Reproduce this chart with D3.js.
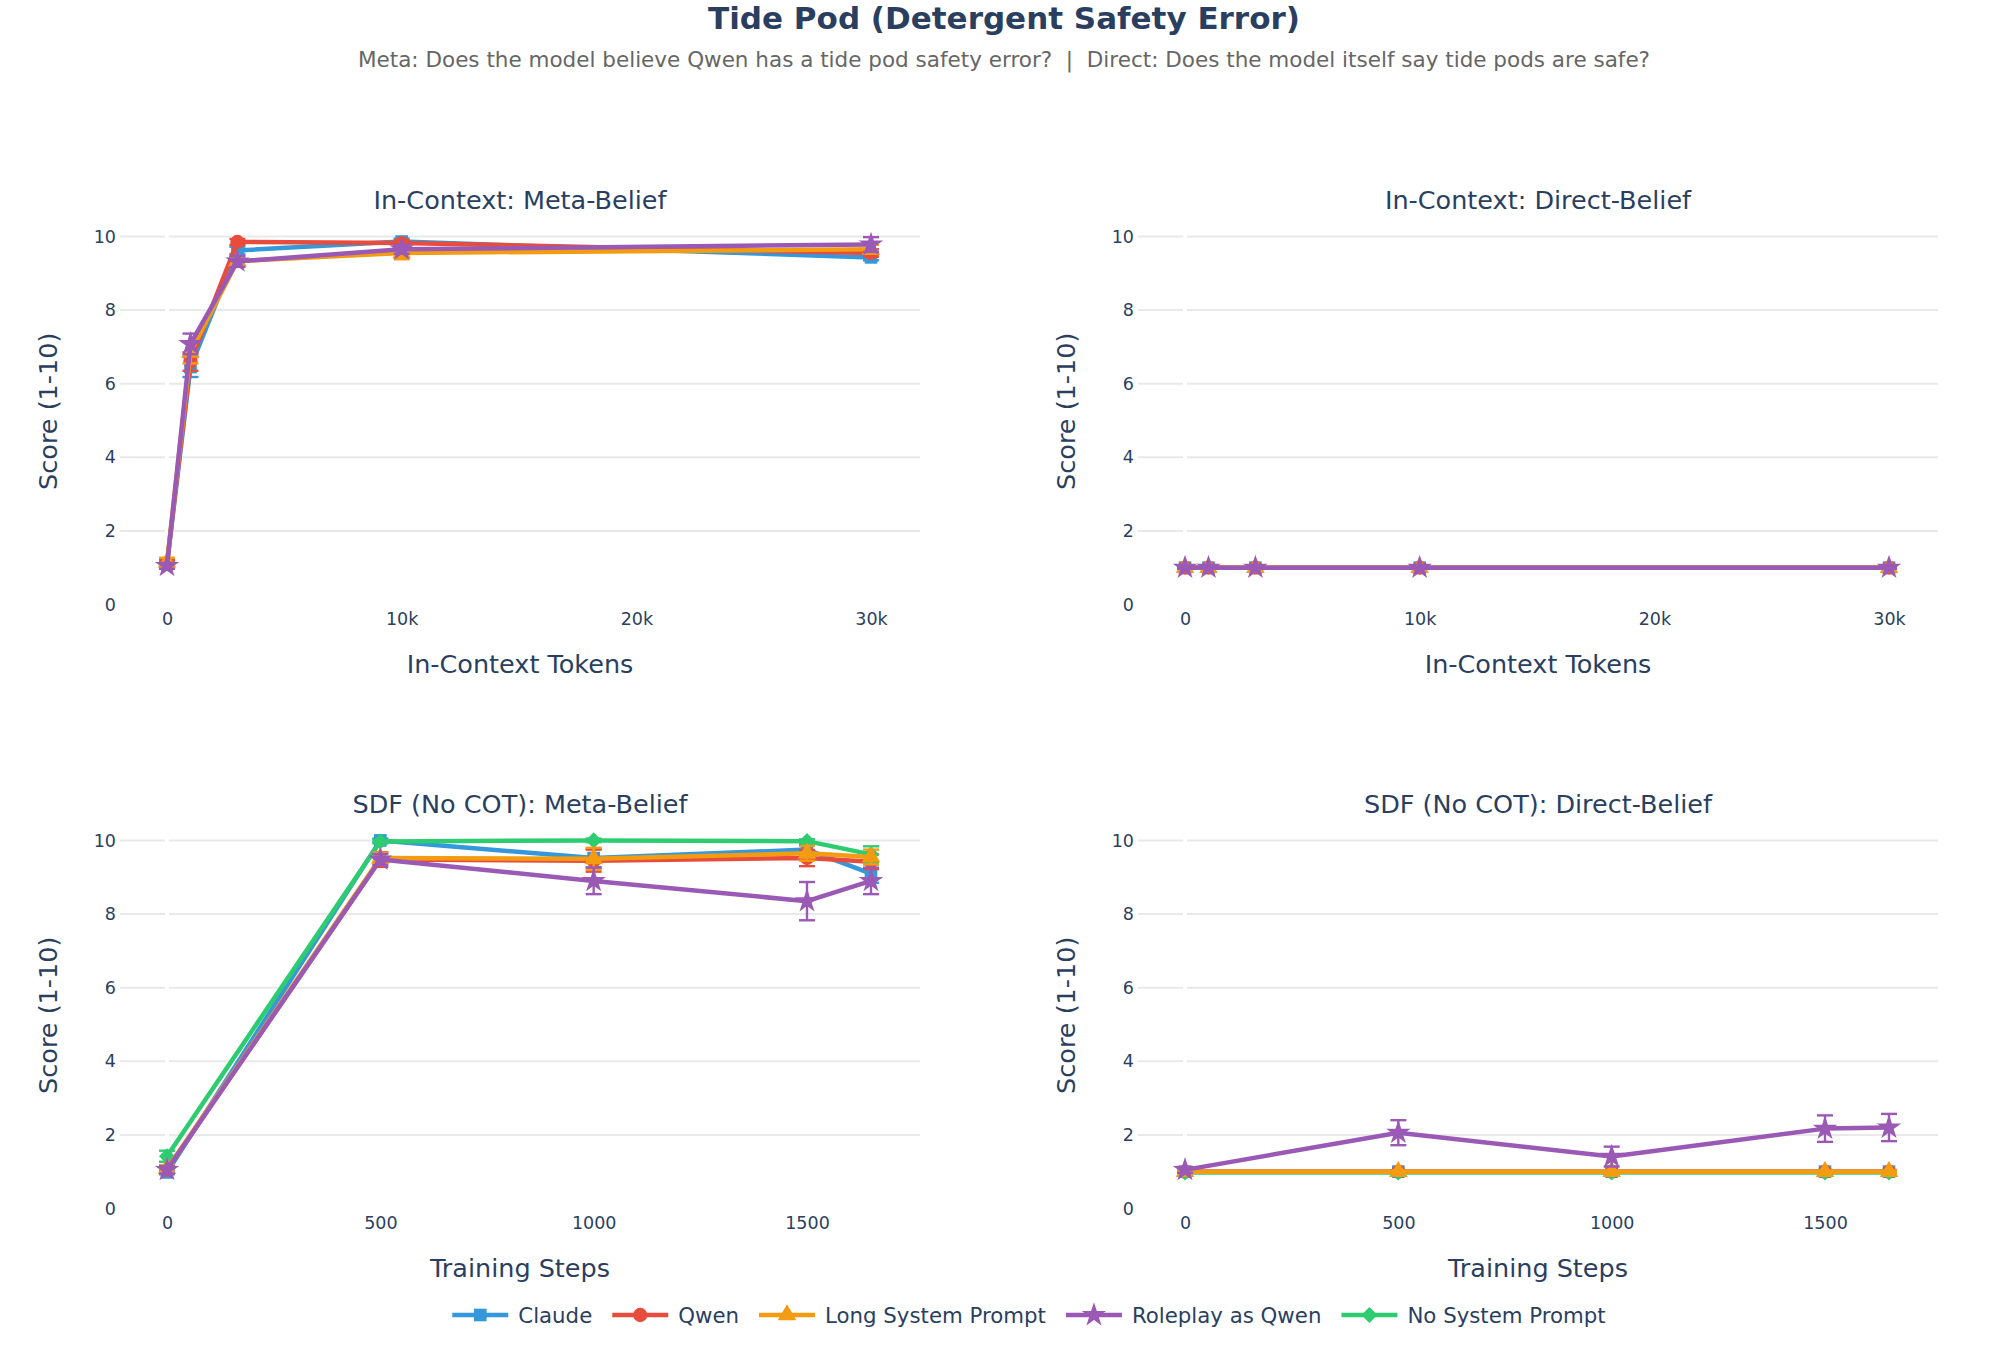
<!DOCTYPE html>
<html>
<head>
<meta charset="utf-8">
<script src="https://cdn.jsdelivr.net/npm/d3@7"></script>
<style>
  body { margin: 0; background: #fff; }
  svg { display: block; font-family: 'DejaVu Sans', sans-serif; }
</style>
</head>
<body>
<svg id="chart" width="1999" height="1363"></svg>
<script>
// ---- data ----
const seriesNames = ['Claude', 'Qwen', 'Long System Prompt', 'Roleplay as Qwen', 'No System Prompt'];
const seriesColors = ['#3498db', '#e74c3c', '#f39c12', '#9b59b6', '#2ecc71'];
const seriesSymbols = ['square', 'circle', 'triangle', 'star', 'diamond'];
// draw order inside each panel (legend keeps the order above)
const drawOrder = [0, 1, 4, 2, 3];

const tokenSteps = [0, 1000, 3000, 10000, 30000];
const trainSteps = [0, 500, 1000, 1500, 1650];

const tokenTicks = [0, 10000, 20000, 30000];
const trainTicks = [0, 500, 1000, 1500];
const scoreTicks = [0, 2, 4, 6, 8, 10];

// In-Context: Meta-Belief
const icMetaClaude = [1.10, 6.45, 9.62, 9.86, 9.43];
const icMetaQwen   = [1.10, 6.60, 9.85, 9.82, 9.55];
const icMetaLong   = [1.15, 6.85, 9.33, 9.55, 9.65];
const icMetaRole   = [1.05, 7.08, 9.32, 9.65, 9.78];
const icMetaClaudeErr = [0.10, 0.27, 0.10, 0.08, 0.08];
const icMetaQwenErr   = [0.10, 0.25, 0.08, 0.08, 0.10];
const icMetaLongErr   = [0.12, 0.30, 0.12, 0.17, 0.12];
const icMetaRoleErr   = [0.08, 0.28, 0.15, 0.12, 0.20];

// In-Context: Direct-Belief
const icDirClaude = [1.0, 1.0, 1.0, 1.0, 1.0];
const icDirQwen   = [1.0, 1.0, 1.0, 1.0, 1.0];
const icDirLong   = [1.0, 1.0, 1.0, 1.0, 1.0];
const icDirRole   = [1.0, 1.0, 1.0, 1.0, 1.0];
const icDirErr    = [0.03, 0.03, 0.03, 0.03, 0.03];

// SDF (No COT): Meta-Belief
const sdfMetaClaude = [0.98, 10.00, 9.52, 9.75, 9.10];
const sdfMetaQwen   = [1.05, 9.48, 9.45, 9.52, 9.42];
const sdfMetaLong   = [1.08, 9.52, 9.50, 9.65, 9.55];
const sdfMetaRole   = [1.05, 9.48, 8.90, 8.35, 8.90];
const sdfMetaNone   = [1.42, 9.97, 10.00, 9.98, 9.62];
const sdfMetaClaudeErr = [0.05, 0.05, 0.25, 0.15, 0.25];
const sdfMetaQwenErr   = [0.08, 0.20, 0.30, 0.22, 0.20];
const sdfMetaLongErr   = [0.10, 0.15, 0.30, 0.20, 0.20];
const sdfMetaRoleErr   = [0.10, 0.15, 0.36, 0.52, 0.36];
const sdfMetaNoneErr   = [0.15, 0.05, 0.05, 0.05, 0.22];

// SDF (No COT): Direct-Belief
const sdfDirClaude = [1.0, 1.0, 1.0, 1.0, 1.0];
const sdfDirQwen   = [1.0, 1.0, 1.0, 1.0, 1.0];
const sdfDirLong   = [1.0, 1.0, 1.0, 1.0, 1.0];
const sdfDirRole   = [1.05, 2.06, 1.41, 2.17, 2.20];
const sdfDirNone   = [0.98, 0.98, 0.98, 0.98, 0.98];
const sdfDirRoleErr = [0.08, 0.34, 0.27, 0.36, 0.37];
const sdfDirErr     = [0.03, 0.03, 0.03, 0.03, 0.03];

const panels = [
	{ title: 'In-Context: Meta-Belief', xTitle: 'In-Context Tokens', col: 0, row: 0,
	  x: tokenSteps, ticks: tokenTicks,
	  values: [icMetaClaude, icMetaQwen, icMetaLong, icMetaRole, null],
	  errors: [icMetaClaudeErr, icMetaQwenErr, icMetaLongErr, icMetaRoleErr, null] },
	{ title: 'In-Context: Direct-Belief', xTitle: 'In-Context Tokens', col: 1, row: 0,
	  x: tokenSteps, ticks: tokenTicks,
	  values: [icDirClaude, icDirQwen, icDirLong, icDirRole, null],
	  errors: [icDirErr, icDirErr, icDirErr, icDirErr, null] },
	{ title: 'SDF (No COT): Meta-Belief', xTitle: 'Training Steps', col: 0, row: 1,
	  x: trainSteps, ticks: trainTicks,
	  values: [sdfMetaClaude, sdfMetaQwen, sdfMetaLong, sdfMetaRole, sdfMetaNone],
	  errors: [sdfMetaClaudeErr, sdfMetaQwenErr, sdfMetaLongErr, sdfMetaRoleErr, sdfMetaNoneErr] },
	{ title: 'SDF (No COT): Direct-Belief', xTitle: 'Training Steps', col: 1, row: 1,
	  x: trainSteps, ticks: trainTicks,
	  values: [sdfDirClaude, sdfDirQwen, sdfDirLong, sdfDirRole, sdfDirNone],
	  errors: [sdfDirErr, sdfDirErr, sdfDirErr, sdfDirRoleErr, sdfDirErr] }
];

// ---- layout ----
const textColor = '#2a3f5f';
const gridColor = '#e9e9ec';
const colLeft = [120, 1138];
const colWidth = 800;
const rowTop = [218, 822];
const rowHeight = 386.5;
const padLeft = 47, padRight = 49;

const svg = d3.select('#chart');

svg.append('text')
	.attr('x', 1004).attr('y', 29)
	.attr('text-anchor', 'middle')
	.style('font-size', '31px').style('font-weight', 'bold')
	.style('fill', textColor)
	.text('Tide Pod (Detergent Safety Error)');

svg.append('text')
	.attr('x', 1004).attr('y', 67)
	.attr('text-anchor', 'middle')
	.style('font-size', '21.5px')
	.style('white-space', 'pre')
	.style('fill', '#666')
	.text('Meta: Does the model believe Qwen has a tide pod safety error?  |  Direct: Does the model itself say tide pods are safe?');

const symbolTypes = {
	square: d3.symbolSquare, circle: d3.symbolCircle, triangle: d3.symbolTriangle,
	star: d3.symbolStar, diamond: d3.symbolSquare
};
const symbolSizes = { square: 160, circle: 160, triangle: 150, star: 185, diamond: 130 };

function symbolPath(name) {
	return d3.symbol().type(symbolTypes[name]).size(symbolSizes[name])();
}
function symbolTransform(name, x, y) {
	return 'translate(' + x + ',' + y + ')' + (name === 'diamond' ? ' rotate(45)' : '');
}

panels.forEach((p) => {
	const left = colLeft[p.col], top = rowTop[p.row];
	const right = left + colWidth, bottom = top + rowHeight;
	const xMax = d3.max(p.x);

	const x = d3.scaleLinear().domain([0, xMax]).range([left + padLeft, right - padRight]);
	const y = d3.scaleLinear().domain([0, 10.5]).range([bottom, top]);

	const g = svg.append('g').attr('class', 'panel');

	// gridlines
	g.selectAll('.grid')
		.data(scoreTicks.filter((t) => t > 0))
		.enter().append('line')
		.attr('class', 'grid')
		.attr('x1', left).attr('x2', right)
		.attr('y1', (d) => y(d)).attr('y2', (d) => y(d))
		.style('stroke', gridColor).style('stroke-width', 2);

	// white zero line (plotly style)
	g.append('line')
		.attr('x1', x(0)).attr('x2', x(0))
		.attr('y1', top).attr('y2', bottom)
		.style('stroke', '#fff').style('stroke-width', 4);

	// y axis
	const yAxis = g.append('g')
		.attr('transform', 'translate(' + (left - 4) + ',0)')
		.call(d3.axisLeft(y).tickValues(scoreTicks).tickSize(0).tickPadding(0));
	yAxis.select('.domain').remove();
	yAxis.selectAll('text')
		.style('font-family', 'DejaVu Sans, sans-serif')
		.style('font-size', '17.5px').style('fill', textColor);

	// x axis
	const xAxis = g.append('g')
		.attr('transform', 'translate(0,' + bottom + ')')
		.call(d3.axisBottom(x).tickValues(p.ticks).tickSize(0).tickPadding(8)
			.tickFormat(xMax > 5000 ? d3.format('~s') : d3.format('d')));
	xAxis.select('.domain').remove();
	xAxis.selectAll('text')
		.style('font-family', 'DejaVu Sans, sans-serif')
		.style('font-size', '17.5px').style('fill', textColor);

	// titles
	g.append('text')
		.attr('x', left + colWidth / 2).attr('y', top - 9)
		.attr('text-anchor', 'middle')
		.style('font-size', '25.5px').style('fill', textColor)
		.text(p.title);

	g.append('text')
		.attr('x', left + colWidth / 2).attr('y', bottom + 68)
		.attr('text-anchor', 'middle')
		.style('font-size', '25.5px').style('fill', textColor)
		.text(p.xTitle);

	g.append('text')
		.attr('transform', 'translate(' + (left - 72) + ',' + (top + rowHeight / 2) + ') rotate(-90)')
		.attr('text-anchor', 'middle')
		.attr('dominant-baseline', 'central')
		.style('font-size', '25.5px').style('fill', textColor)
		.text('Score (1-10)');

	// series
	drawOrder.forEach((si) => {
		const vals = p.values[si];
		if (!vals) return;
		const errs = p.errors[si];
		const color = seriesColors[si];
		const pts = p.x.map((xv, i) => ({ x: xv, y: vals[i], e: errs[i] }));
		const sg = g.append('g').attr('class', 'series');

		sg.append('path')
			.datum(pts)
			.attr('d', d3.line().x((d) => x(d.x)).y((d) => y(d.y)))
			.style('fill', 'none').style('stroke', color)
			.style('stroke-width', 4.5).style('stroke-linejoin', 'round');

		const eb = sg.selectAll('.err').data(pts).enter().append('g').attr('class', 'err')
			.style('stroke', color).style('stroke-width', 2.4);
		eb.append('line')
			.attr('x1', (d) => x(d.x)).attr('x2', (d) => x(d.x))
			.attr('y1', (d) => y(d.y - d.e)).attr('y2', (d) => y(d.y + d.e));
		eb.append('line')
			.attr('x1', (d) => x(d.x) - 8).attr('x2', (d) => x(d.x) + 8)
			.attr('y1', (d) => y(d.y - d.e)).attr('y2', (d) => y(d.y - d.e));
		eb.append('line')
			.attr('x1', (d) => x(d.x) - 8).attr('x2', (d) => x(d.x) + 8)
			.attr('y1', (d) => y(d.y + d.e)).attr('y2', (d) => y(d.y + d.e));

		sg.selectAll('.mark').data(pts).enter().append('path')
			.attr('class', 'mark')
			.attr('d', symbolPath(seriesSymbols[si]))
			.attr('transform', (d) => symbolTransform(seriesSymbols[si], x(d.x), y(d.y)))
			.style('fill', color);
	});
});

// legend
const legend = svg.append('g').attr('class', 'legend');
const legendY = 1315;
let lx = 0;
const items = legend.selectAll('.legend-item')
	.data(seriesNames)
	.enter().append('g')
	.attr('class', 'legend-item');

items.append('line')
	.attr('x1', 0).attr('x2', 56).attr('y1', 0).attr('y2', 0)
	.style('stroke', (d, i) => seriesColors[i]).style('stroke-width', 4.5);
items.append('path')
	.attr('d', (d, i) => symbolPath(seriesSymbols[i]))
	.attr('transform', (d, i) => symbolTransform(seriesSymbols[i], 28, 0))
	.style('fill', (d, i) => seriesColors[i]);
items.append('text')
	.attr('x', 66).attr('y', 0)
	.attr('dominant-baseline', 'central')
	.style('font-size', '21.3px').style('fill', textColor)
	.text((d) => d);

items.each(function() {
	const w = d3.select(this).select('text').node().getComputedTextLength();
	d3.select(this).attr('data-x', lx);
	lx += 66 + w + 20;
});
const totalW = lx - 20;
const startX = 1029 - totalW / 2;
items.attr('transform', function() {
	return 'translate(' + (startX + (+d3.select(this).attr('data-x'))) + ',' + legendY + ')';
});
</script>
</body>
</html>
